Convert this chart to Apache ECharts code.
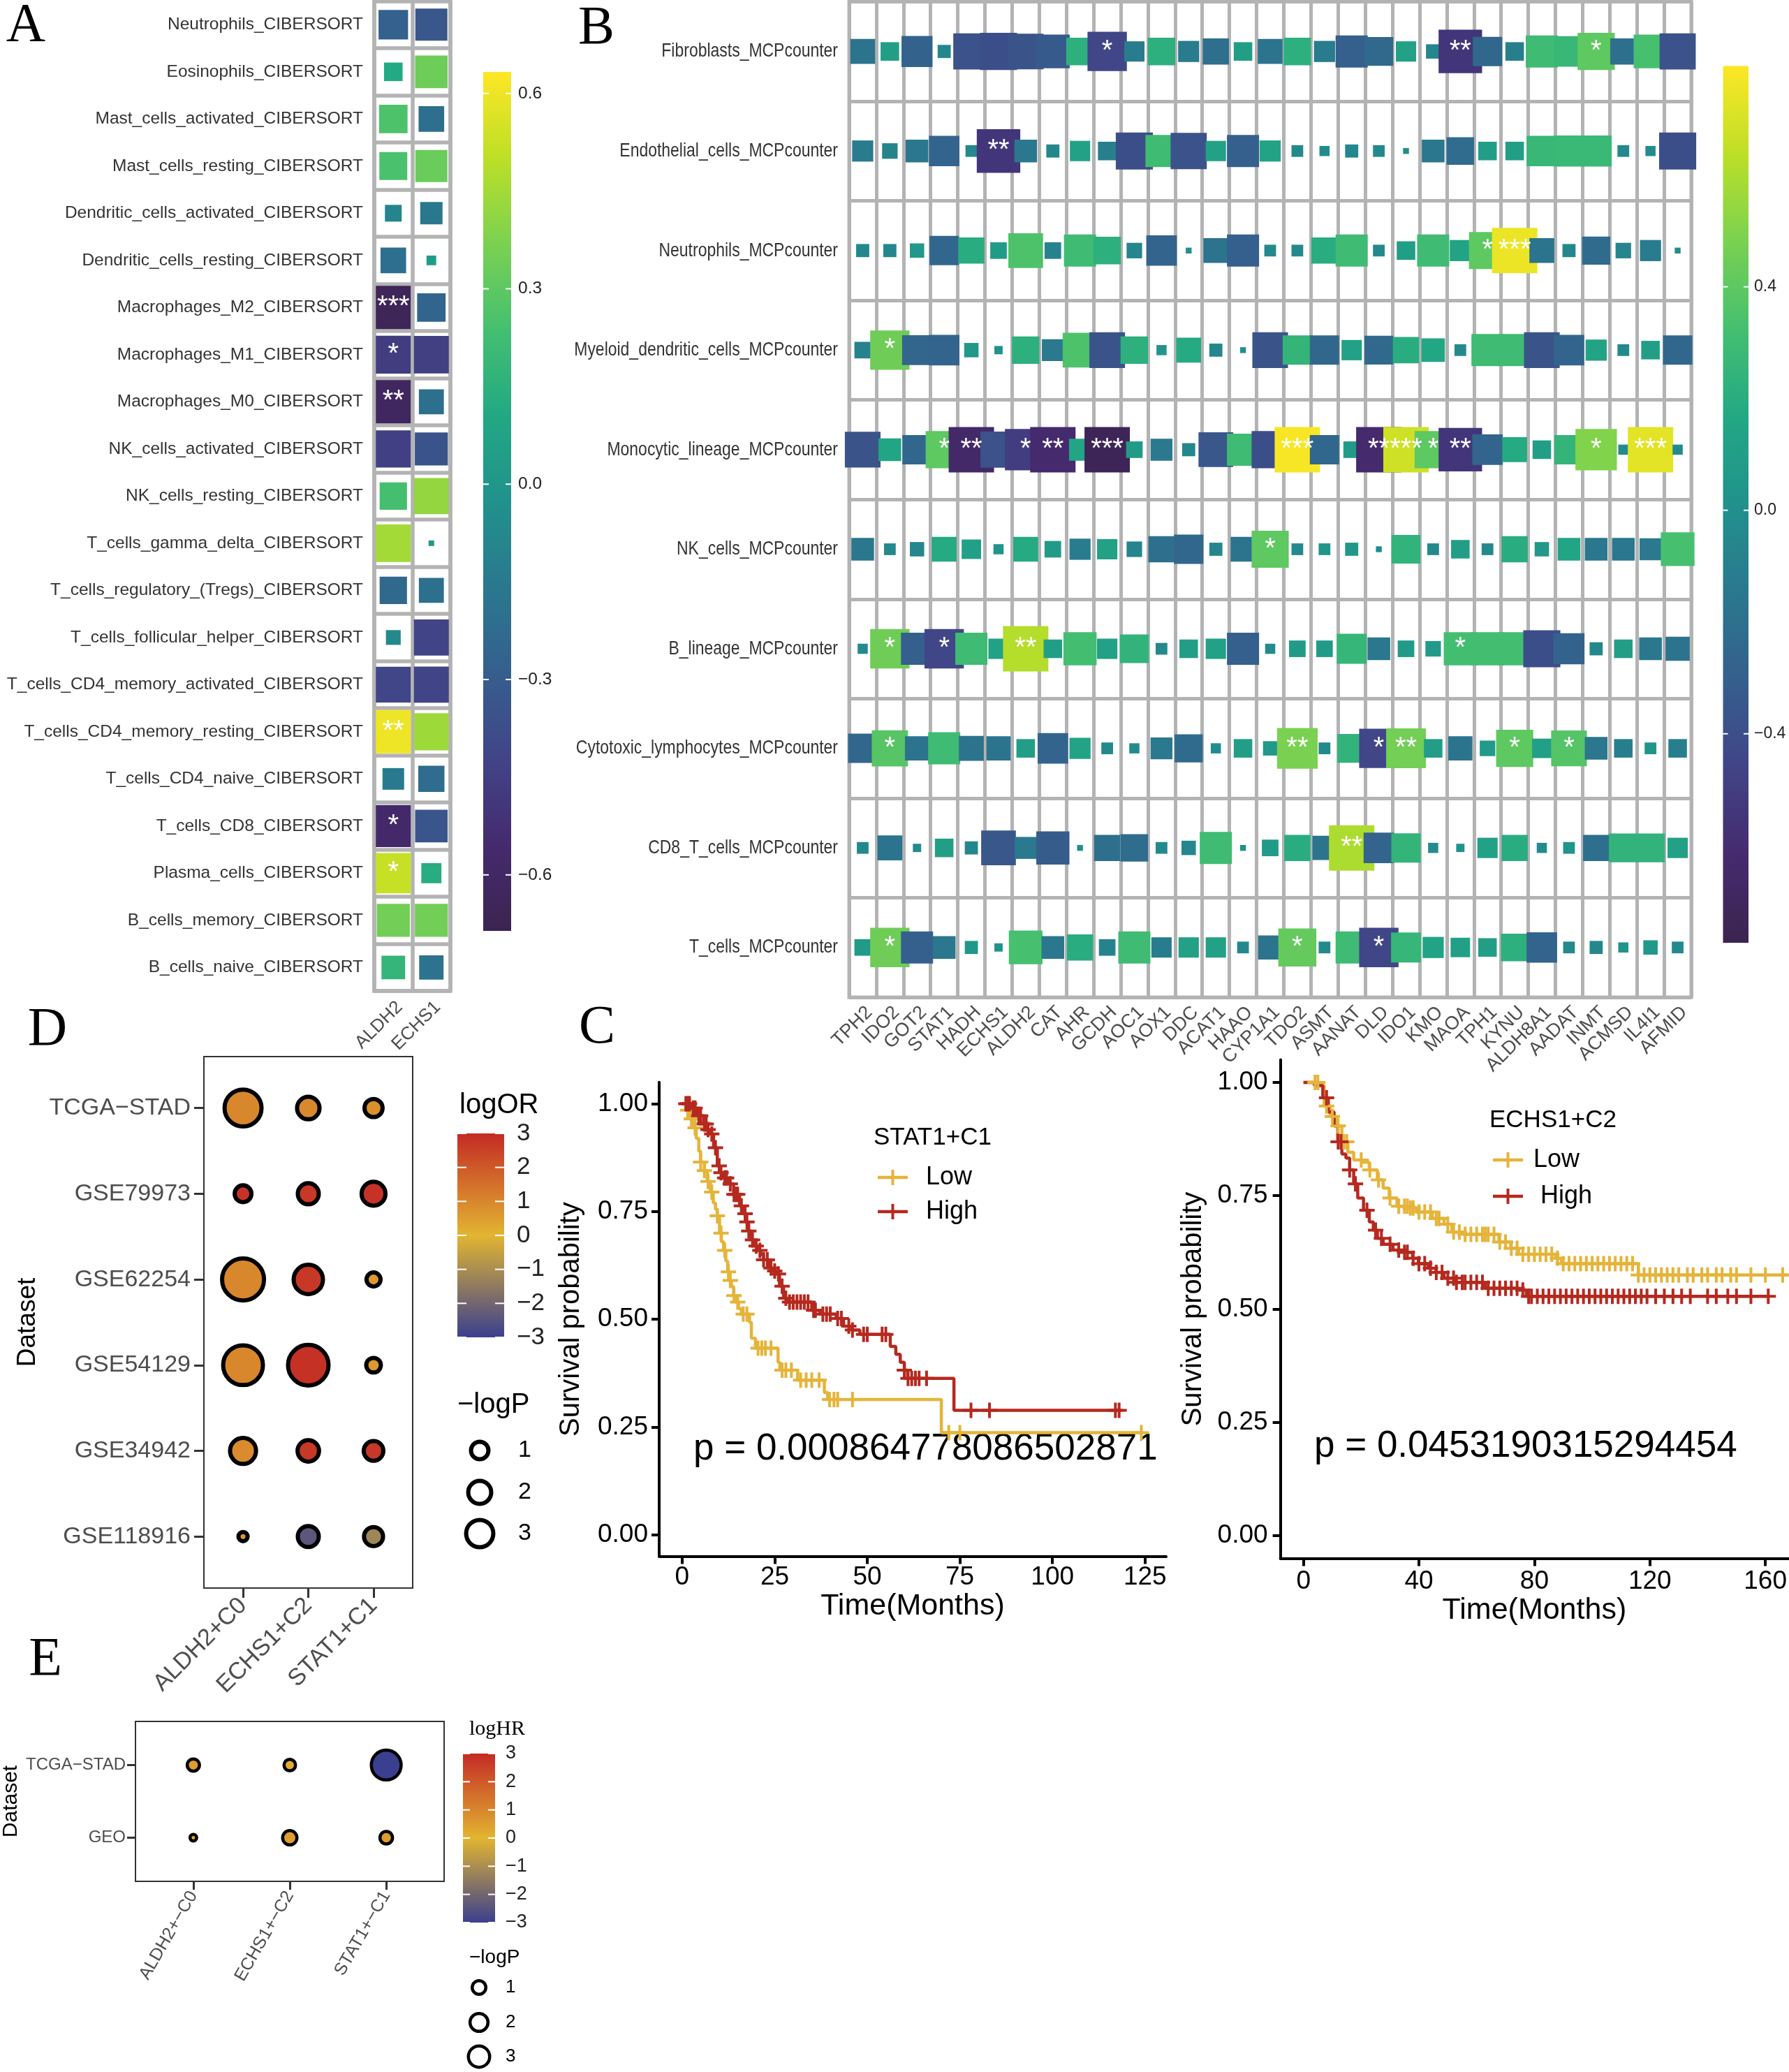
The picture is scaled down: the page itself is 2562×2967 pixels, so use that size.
<!DOCTYPE html>
<html>
<head>
<meta charset="utf-8">
<title>Figure</title>
<script src="https://cdn.jsdelivr.net/npm/echarts@6.0.0/dist/echarts.min.js"></script>
<style>
html,body{margin:0;padding:0;background:#ffffff;overflow:hidden;}
#chart{width:2562px;height:2967px;}
</style>
</head>
<body>
<div id="chart"></div>
<script>
// ================= DATA =================
// ---- Panel A : CIBERSORT correlation heatmap ----
const aCells = ['Neutrophils_CIBERSORT','Eosinophils_CIBERSORT','Mast_cells_activated_CIBERSORT','Mast_cells_resting_CIBERSORT','Dendritic_cells_activated_CIBERSORT','Dendritic_cells_resting_CIBERSORT','Macrophages_M2_CIBERSORT','Macrophages_M1_CIBERSORT','Macrophages_M0_CIBERSORT','NK_cells_activated_CIBERSORT','NK_cells_resting_CIBERSORT','T_cells_gamma_delta_CIBERSORT','T_cells_regulatory_(Tregs)_CIBERSORT','T_cells_follicular_helper_CIBERSORT','T_cells_CD4_memory_activated_CIBERSORT','T_cells_CD4_memory_resting_CIBERSORT','T_cells_CD4_naive_CIBERSORT','T_cells_CD8_CIBERSORT','Plasma_cells_CIBERSORT','B_cells_memory_CIBERSORT','B_cells_naive_CIBERSORT'];
const aGenes = ['ALDH2','ECHS1'];
const aCorrALDH2 = [-0.28,0.11,0.26,0.25,-0.09,-0.21,-0.65,-0.46,-0.62,-0.44,0.24,0.45,-0.24,-0.07,-0.41,0.60,-0.15,-0.57,0.52,0.35,0.18];
const aCorrECHS1 = [-0.33,0.34,-0.21,0.33,-0.16,0.03,-0.26,-0.45,-0.20,-0.35,0.42,0.01,-0.20,-0.42,-0.42,0.44,-0.22,-0.34,0.13,0.35,-0.19];
const aSigALDH2 = ['','','','','','','***','*','**','','','','','','','**','','*','*','',''];
const aSigECHS1 = ['','','','','','','','','','','','','','','','','','','','',''];
const aColorTicks = [-0.6,-0.3,0,0.3,0.6];
const aColorRange = [-0.686,0.633];

// ---- Panel B : MCPcounter correlation heatmap ----
const bCells = ['Fibroblasts_MCPcounter','Endothelial_cells_MCPcounter','Neutrophils_MCPcounter','Myeloid_dendritic_cells_MCPcounter','Monocytic_lineage_MCPcounter','NK_cells_MCPcounter','B_lineage_MCPcounter','Cytotoxic_lymphocytes_MCPcounter','CD8_T_cells_MCPcounter','T_cells_MCPcounter'];
const bGenes = ['TPH2','IDO2','GOT2','STAT1','HADH','ECHS1','ALDH2','CAT','AHR','GCDH','AOC1','AOX1','DDC','ACAT1','HAAO','CYP1A1','TDO2','ASMT','AANAT','DLD','IDO1','KMO','MAOA','TPH1','KYNU','ALDH8A1','AADAT','INMT','ACMSD','IL4I1','AFMID'];
const bCorr = [
 [-0.18,0.10,-0.28,-0.05,-0.38,-0.40,-0.37,-0.33,0.22,-0.45,-0.12,0.22,-0.13,-0.20,0.10,-0.18,0.22,-0.13,-0.30,-0.24,0.12,-0.06,-0.55,-0.25,-0.10,0.30,0.27,0.40,-0.20,0.33,-0.38],
 [-0.13,-0.07,-0.15,-0.27,-0.04,-0.55,-0.15,-0.05,0.12,-0.10,-0.40,0.30,-0.38,0.12,-0.30,0.13,-0.04,-0.03,-0.05,-0.04,-0.01,-0.15,-0.22,0.10,0.10,0.27,0.28,0.28,-0.04,-0.03,-0.40],
 [-0.05,-0.05,0.06,-0.25,0.20,0.08,0.35,-0.08,0.30,0.22,-0.07,-0.27,0.01,-0.18,-0.30,-0.04,-0.04,0.20,0.30,-0.04,0.10,0.30,0.13,0.40,0.75,-0.18,-0.05,-0.23,-0.07,-0.13,-0.01],
 [-0.08,0.45,-0.26,-0.27,0.06,0.02,0.22,-0.14,0.35,-0.37,0.22,0.03,0.18,-0.05,-0.01,-0.37,0.25,-0.25,0.12,-0.24,0.20,0.16,-0.04,0.30,0.30,-0.37,-0.27,0.13,-0.04,0.10,-0.25],
 [-0.37,0.15,-0.25,0.40,-0.65,-0.38,-0.50,-0.62,0.14,-0.74,0.08,-0.14,-0.05,-0.35,0.30,-0.40,0.78,-0.25,0.08,-0.62,0.68,0.40,-0.55,-0.27,0.18,0.10,0.25,0.50,-0.03,0.73,-0.03],
 [-0.15,-0.04,-0.06,0.18,0.11,0.03,0.18,0.08,-0.13,0.12,-0.07,-0.20,-0.25,-0.05,-0.18,0.40,-0.04,0.04,0.05,-0.01,0.24,-0.04,0.10,-0.04,0.20,0.06,0.15,-0.15,-0.15,-0.14,0.33],
 [-0.03,0.45,-0.30,-0.45,0.30,0.12,0.62,0.10,0.32,0.12,0.24,-0.04,0.10,0.12,-0.30,-0.03,0.08,0.08,0.26,-0.15,0.08,0.07,0.32,0.32,0.32,-0.40,-0.28,-0.05,0.10,-0.15,-0.17],
 [-0.25,0.38,-0.17,0.30,-0.18,-0.17,0.10,-0.27,0.13,-0.04,-0.03,-0.14,-0.23,-0.03,0.10,0.06,0.48,-0.04,0.24,-0.45,0.46,0.10,-0.17,0.07,0.40,0.11,0.37,-0.15,-0.10,0.04,-0.10],
 [-0.04,-0.18,-0.02,0.10,-0.05,-0.35,-0.14,-0.32,-0.01,-0.20,-0.22,-0.04,-0.06,0.30,-0.01,0.08,0.20,-0.17,0.60,-0.27,0.25,-0.03,0.02,0.12,0.20,-0.03,0.04,-0.20,0.24,0.24,0.12],
 [0.08,0.45,-0.30,-0.15,0.05,0.02,0.33,-0.15,0.20,-0.08,0.30,-0.12,0.12,0.12,-0.04,-0.17,0.42,-0.04,0.30,-0.45,0.26,0.13,0.11,0.10,0.22,-0.27,-0.04,-0.05,0.03,0.06,-0.04]
];
// [rowIndex, geneIndex, stars]
const bSig = [[0,9,'*'],[0,22,'**'],[0,27,'*'],[1,5,'**'],[2,23,'*'],[2,24,'***'],[3,1,'*'],
 [4,3,'*'],[4,4,'**'],[4,6,'*'],[4,7,'**'],[4,9,'***'],[4,16,'***'],[4,19,'**'],[4,20,'***'],[4,21,'*'],[4,22,'**'],[4,27,'*'],[4,29,'***'],
 [5,15,'*'],[6,1,'*'],[6,3,'*'],[6,6,'**'],[6,22,'*'],
 [7,1,'*'],[7,16,'**'],[7,19,'*'],[7,20,'**'],[7,24,'*'],[7,26,'*'],[8,18,'**'],[9,1,'*'],[9,16,'*'],[9,19,'*']];
const bColorTicks = [-0.4,0,0.4];
const bColorRange = [-0.774,0.795];

// ---- Panel C : Kaplan-Meier curves  [time, survival] ----
const c1Title = 'STAT1+C1';
const c1Low = [[0,1],[1,0.985],[2,0.965],[3,0.944],[3.8,0.92],[4.5,0.89],[5,0.865],[6,0.845],[6.8,0.82],[7.6,0.795],[8.4,0.77],[9,0.755],[9.5,0.74],[10.1,0.70],[10.6,0.68],[11.2,0.66],[11.8,0.635],[12.3,0.61],[12.8,0.59],[13.3,0.576],[13.9,0.555],[14.4,0.54],[15.2,0.525],[16,0.512],[18.2,0.493],[18.7,0.456],[19.8,0.433],[25.9,0.40],[26.4,0.382],[31.2,0.359],[38.4,0.33],[39.3,0.314],[70,0.237],[124.5,0.237]];
const c1High = [[0,1],[2.6,0.99],[4.2,0.972],[5.8,0.953],[6.6,0.94],[7.4,0.93],[8.5,0.898],[9.5,0.856],[10.3,0.84],[11.2,0.828],[12.3,0.814],[13.9,0.79],[15.5,0.763],[16.3,0.745],[17.1,0.726],[17.9,0.705],[18.7,0.684],[19.5,0.67],[20.4,0.66],[21.2,0.65],[22,0.638],[23.6,0.619],[24.5,0.612],[25.3,0.605],[26.3,0.577],[27.4,0.549],[28.4,0.54],[35,0.521],[37.2,0.512],[41.6,0.502],[43.6,0.484],[45.8,0.475],[48,0.465],[56.2,0.437],[57.7,0.419],[58.9,0.40],[60,0.382],[60.9,0.363],[73.4,0.289],[118.5,0.289]];
const c1LowCens = [1.5,2.5,3.5,5,6,7,8,9.5,10.5,11.5,12.5,13,14,15,16.5,17.5,20.5,21.5,22.5,24,27,28,29.5,32,33.5,35,37,39.8,41,42,46,72,75,124];
const c1HighCens = [1,1.5,2,3,3.5,4.5,5,6,6.5,7,8,9,10,10.5,11.5,12,13,14,14.5,15,16,17,17.5,18,19,20,21,22,23,24,25,26,27,28,29,30,31,32,33,34,35.5,36,38,39,40,42,43,45,46,49,50,54,55,60,61,62,63,64,66,78,83,117,118];
const c1P = 'p = 0.000864778086502871';
const c1XTicks = [0,25,50,75,100,125];

const c2Title = 'ECHS1+C2';
const c2Low = [[0,1],[5.2,0.993],[7.2,0.948],[9.3,0.925],[11.3,0.904],[13.3,0.869],[15.4,0.846],[17.4,0.829],[20.1,0.824],[22.8,0.807],[25.6,0.785],[27.6,0.767],[29.7,0.745],[32.4,0.727],[36.4,0.723],[39.1,0.714],[44.6,0.70],[48.7,0.687],[51.4,0.67],[55.5,0.665],[67.7,0.648],[71.8,0.634],[74.5,0.621],[87.4,0.612],[89.4,0.60],[116,0.575],[168,0.575]];
const c2High = [[0,1],[3.8,0.993],[6.7,0.966],[8.6,0.935],[10.6,0.904],[11.9,0.869],[13.3,0.842],[14.7,0.833],[16,0.807],[17.4,0.776],[18.8,0.745],[20.8,0.718],[22.8,0.692],[24.2,0.674],[25.6,0.656],[27.6,0.643],[31,0.63],[35,0.625],[37.8,0.612],[39.8,0.60],[43.2,0.59],[45.9,0.581],[48.7,0.568],[52.7,0.559],[63,0.546],[74.5,0.542],[77.2,0.528],[161.5,0.528]];
const c2LowCens = [4,5,8,10,12,14,15,20,23,26,30,33,35,36,37,38,40,42,44,46,47,50,52,54,56,58,60,62,63,64,66,68,70,72,74,76,78,80,82,84,86,88,90,92,94,96,98,100,102,104,106,108,110,112,114,116,118,120,122,124,126,128,130,133,135,138,140,143,145,148,150,155,160,166];
const c2HighCens = [8,12,13,16,18,22,25,27,30,33,35,36,38,40,42,44,46,48,50,52,53,55,56,58,60,62,64,66,68,70,72,74,76,78,79,81,83,85,87,89,91,93,95,97,99,101,103,105,107,109,111,113,115,117,119,122,125,128,131,134,140,143,147,150,155,161];
const c2P = 'p = 0.0453190315294454';
const c2XTicks = [0,40,80,120,160];
const survTicks = [0,0.25,0.5,0.75,1];

// ---- Panel D : logOR bubble plot ----
const dDatasets = ['TCGA\u2212STAD','GSE79973','GSE62254','GSE54129','GSE34942','GSE118916'];
const dGroups = ['ALDH2+C0','ECHS1+C2','STAT1+C1'];
const dLogOR = [[1.0,0.95,0.8],[2.8,2.7,2.8],[1.0,2.7,0.6],[1.0,2.85,0.6],[0.9,2.7,2.7],[0.6,-2.4,-1.2]];
const dLogP  = [[6.1,1.9,1.1],[0.9,1.6,2.2],[8.1,3.6,0.55],[7.2,7.5,0.62],[2.7,1.7,1.35],[0.14,1.6,1.25]];
const dColorTicks = [-3,-2,-1,0,1,2,3];
const dSizeLegend = [1,2,3];

// ---- Panel E : logHR bubble plot ----
const eDatasets = ['TCGA\u2212STAD','GEO'];
const eGroups = ['ALDH2+\u2212C0','ECHS1+\u2212C2','STAT1+\u2212C1'];
const eLogHR = [[0.5,0.2,-3.0],[0.1,0.5,0.5]];
const eLogP  = [[0.75,0.64,6.5],[0.11,1.14,0.81]];
const eColorTicks = [-3,-2,-1,0,1,2,3];
const eSizeLegend = [1,2,3];

// ================= STYLE HELPERS =================
const FONT = "'Liberation Sans', Arial, Helvetica, sans-serif";
const SERIF = "'Liberation Serif', 'Times New Roman', Times, serif";

const VIRIDIS = ['#3b2450','#452a6e','#414487','#355f8d','#2a788e','#21918c','#22a884','#44bf70','#7ad151','#bddf26','#fde725'];
const OR_PAL = ['#3b3f8f','#e2b531','#c42a25'];
function rgb(h){return [parseInt(h.slice(1,3),16),parseInt(h.slice(3,5),16),parseInt(h.slice(5,7),16)];}
function ramp(stops, t){
  t = Math.max(0, Math.min(1, t));
  const n = stops.length - 1; const i = Math.min(n - 1, Math.floor(t * n)); const f = t * n - i;
  const a = rgb(stops[i]), b = rgb(stops[i + 1]);
  return 'rgb(' + a.map((x, k) => Math.round(x + (b[k] - x) * f)).join(',') + ')';
}
const virA = v => ramp(VIRIDIS, (v - aColorRange[0]) / (aColorRange[1] - aColorRange[0]));
const virB = v => ramp(VIRIDIS, (v - bColorRange[0]) / (bColorRange[1] - bColorRange[0]));
const orCol = v => ramp(OR_PAL, (v + 3) / 6);
const minusFmt = d => (v => (v < -1e-9 ? '\u2212' : '') + Math.abs(v).toFixed(d));

const grids = [], xAxes = [], yAxes = [], series = [], graphics = [];
const GRAY = '#b3b3b3';

// ---------- heatmap builder ----------
function heatmap(cfg){
  const gi = grids.length;
  grids.push({left:cfg.left, top:cfg.top, width:cfg.width, height:cfg.height, show:true, borderColor:GRAY, borderWidth:cfg.lw, containLabel:false});
  const xi = xAxes.length;
  xAxes.push({gridIndex:gi, type:'category', data:cfg.cols, boundaryGap:true, position:'bottom',
    axisLine:{show:false}, axisTick:{show:false},
    splitLine:{show:true, interval:0, lineStyle:{color:GRAY, width:cfg.lw}},
    axisLabel:{show:cfg.showLabels, interval:0, rotate:45, margin:cfg.xMargin, fontSize:cfg.xFs, fontFamily:FONT, color:'#4d4d4d', verticalAlign:'top', hideOverlap:false}});
  const yi = yAxes.length;
  yAxes.push({gridIndex:gi, type:'category', data:cfg.rows, inverse:true, boundaryGap:true,
    axisLine:{show:false}, axisTick:{show:false},
    splitLine:{show:true, interval:0, lineStyle:{color:GRAY, width:cfg.lw}},
    axisLabel:{show:cfg.showLabels, interval:0, margin:cfg.yMargin, fontSize:cfg.yFs, fontFamily:FONT, color:'#333333', hideOverlap:false}});
  series.push({type:'scatter', xAxisIndex:xi, yAxisIndex:yi, symbol:'rect', clip:true, silent:true, animation:false, z:3,
    data:cfg.data,
    symbolSize: v => { const s = cfg.S * Math.sqrt(Math.abs(v[2])); return [Math.min(s, cfg.capW), Math.min(s, cfg.capH)]; },
    itemStyle:{color: p => cfg.colorFn(p.value[2]), opacity:1},
    label:{show:true, position:'inside', formatter: p => p.data.sig || '', color:'#ffffff', fontSize:cfg.starFs, fontFamily:FONT, offset:[0, cfg.starOff]},
    labelLayout:{hideOverlap:false}});
  return {gi, xi, yi};
}

// ---------- colorbar builder ----------
function colorbar(cfg){
  const gi = grids.length;
  grids.push({left:cfg.left, top:cfg.top, width:cfg.width, height:cfg.height, containLabel:false});
  const xi = xAxes.length;
  xAxes.push({gridIndex:gi, type:'value', min:0, max:1, show:false});
  const yi = yAxes.length;
  yAxes.push({gridIndex:gi, type:'value', min:cfg.min, max:cfg.max, position:'right',
    axisLine:{show:false, onZero:false}, axisTick:{show:false}, splitLine:{show:false},
    axisLabel:{show:true, customValues:cfg.ticks, formatter:cfg.fmt, margin:cfg.margin, fontSize:cfg.fs, fontFamily:FONT, color:'#222222'}});
  const stops = [];
  for (let i = 0; i <= 40; i++){ const v = cfg.min + (cfg.max - cfg.min) * i / 40; stops.push({offset:i / 40, color:cfg.colorFn(v)}); }
  series.push({type:'custom', xAxisIndex:xi, yAxisIndex:yi, data:[[0.5, cfg.min]], silent:true, animation:false, z:2,
    renderItem(params, api){
      const cs = params.coordSys;
      const ch = [{type:'rect', shape:{x:cs.x, y:cs.y, width:cs.width, height:cs.height}, style:{fill:new echarts.graphic.LinearGradient(0, 1, 0, 0, stops)}}];
      cfg.ticks.forEach(v => {
        const y = api.coord([0, v])[1];
        ch.push({type:'line', shape:{x1:cs.x, y1:y, x2:cs.x + cfg.tickLen, y2:y}, style:{stroke:'#ffffff', lineWidth:2}});
        ch.push({type:'line', shape:{x1:cs.x + cs.width - cfg.tickLen, y1:y, x2:cs.x + cs.width, y2:y}, style:{stroke:'#ffffff', lineWidth:2}});
      });
      return {type:'group', children:ch};
    }});
}

// ---------- bubble builder ----------
function bubble(cfg){
  const gi = grids.length;
  grids.push({left:cfg.left, top:cfg.top, width:cfg.width, height:cfg.height, show:true, borderColor:'#333333', borderWidth:2, backgroundColor:'#ffffff', containLabel:false});
  const xv = cfg.cols.map((_, i) => i), yv = cfg.rows.map((_, i) => i);
  const xi = xAxes.length;
  xAxes.push({gridIndex:gi, type:'value', min:-0.6, max:cfg.cols.length - 0.4, position:'bottom',
    axisLine:{show:false, onZero:false}, splitLine:{show:false},
    axisTick:{show:true, customValues:xv, length:cfg.tickLen, lineStyle:{color:'#333333', width:cfg.tickW}},
    axisLabel:{customValues:xv, formatter: v => cfg.cols[Math.round(v)], rotate:cfg.xRotate, margin:cfg.xMargin, fontSize:cfg.xFs, fontFamily:FONT, color:'#4d4d4d', hideOverlap:false}});
  const yi = yAxes.length;
  yAxes.push({gridIndex:gi, type:'value', min:-0.6, max:cfg.rows.length - 0.4, inverse:true, position:'left',
    name:'Dataset', nameLocation:'middle', nameGap:cfg.nameGap, nameTextStyle:{fontSize:cfg.nameFs, fontFamily:FONT, color:'#000000'},
    axisLine:{show:false, onZero:false}, splitLine:{show:false},
    axisTick:{show:true, customValues:yv, length:cfg.tickLen, lineStyle:{color:'#333333', width:cfg.tickW}},
    axisLabel:{customValues:yv, formatter: v => cfg.rows[Math.round(v)], margin:cfg.yMargin, fontSize:cfg.yFs, fontFamily:FONT, color:'#4d4d4d', hideOverlap:false}});
  const data = [];
  cfg.rows.forEach((r, ri) => cfg.cols.forEach((c, ci) => data.push([ci, ri, cfg.colorVals[ri][ci], cfg.pVals[ri][ci]])));
  series.push({type:'scatter', xAxisIndex:xi, yAxisIndex:yi, data, symbol:'circle', silent:true, animation:false, z:3,
    symbolSize: v => cfg.k * Math.sqrt(v[3]) + cfg.b,
    itemStyle:{color: p => orCol(p.value[2]), borderColor:'#000000', borderWidth:cfg.bw, opacity:1}});
  // size legend
  graphics.push({type:'text', x:cfg.lgX, y:cfg.lgTitleY, silent:true, style:{text:'\u2212logP', font:cfg.lgTitleFs + 'px ' + FONT, fill:'#000', align:'left', verticalAlign:'middle'}});
  cfg.sizeLegend.forEach((v, i) => {
    const s = cfg.k * Math.sqrt(v) + cfg.b;
    graphics.push({type:'circle', silent:true, shape:{cx:cfg.lgCx, cy:cfg.lgYs[i], r:s / 2}, style:{fill:'#ffffff', stroke:'#000000', lineWidth:cfg.bw}});
    graphics.push({type:'text', x:cfg.lgLabelX, y:cfg.lgYs[i], silent:true, style:{text:String(v), font:cfg.lgFs + 'px ' + FONT, fill:'#000', align:'left', verticalAlign:'middle'}});
  });
}

// ---------- Kaplan-Meier builder ----------
const PLUS = 'path://M-2,-11L2,-11L2,-2L11,-2L11,2L2,2L2,11L-2,11L-2,2L-11,2L-11,-2L-2,-2Z';
const LOWC = '#E5B43A', HIGHC = '#B5291F';
function survAt(curve, t){ let s = curve[0][1]; for (const p of curve){ if (p[0] <= t) s = p[1]; else break; } return s; }
function km(cfg){
  const gi = grids.length;
  grids.push({left:cfg.left, top:cfg.top, width:cfg.width, height:cfg.height, containLabel:false});
  const xi = xAxes.length;
  xAxes.push({gridIndex:gi, type:'value', min:cfg.xMin, max:cfg.xMax, position:'bottom',
    name:'Time(Months)', nameLocation:'middle', nameGap:cfg.xNameGap, nameTextStyle:{fontSize:43, fontFamily:FONT, color:'#000'},
    axisLine:{show:true, onZero:false, lineStyle:{color:'#000', width:4}}, splitLine:{show:false},
    axisTick:{show:true, customValues:cfg.xTicks, length:11, lineStyle:{color:'#000', width:4}},
    axisLabel:{customValues:cfg.xTicks, margin:cfg.xMargin, fontSize:37, fontFamily:FONT, color:'#000'}});
  const yi = yAxes.length;
  yAxes.push({gridIndex:gi, type:'value', min:-0.05, max:1.05, position:'left',
    name:'Survival probability', nameLocation:'middle', nameGap:cfg.yNameGap, nameTextStyle:{fontSize:40, fontFamily:FONT, color:'#000'},
    axisLine:{show:true, onZero:false, lineStyle:{color:'#000', width:4}}, splitLine:{show:false},
    axisTick:{show:true, customValues:survTicks, length:11, lineStyle:{color:'#000', width:4}},
    axisLabel:{customValues:survTicks, formatter: v => v.toFixed(2), margin:cfg.yMargin, fontSize:37, fontFamily:FONT, color:'#000'}});
  [[cfg.low, cfg.lowCens, LOWC], [cfg.high, cfg.highCens, HIGHC]].forEach(([curve, cens, col]) => {
    series.push({type:'line', xAxisIndex:xi, yAxisIndex:yi, data:curve, step:'end', showSymbol:false, symbol:'none', silent:true, animation:false, z:3,
      lineStyle:{color:col, width:4.5}});
    series.push({type:'scatter', xAxisIndex:xi, yAxisIndex:yi, data:cens.map(t => [t, survAt(curve, t)]), symbol:PLUS, symbolSize:22, silent:true, animation:false, z:4,
      itemStyle:{color:col, opacity:1}});
  });
  graphics.push({type:'text', x:cfg.lgX, y:cfg.lgTitleY, silent:true, style:{text:cfg.title, font:'35px ' + FONT, fill:'#000', align:'left', verticalAlign:'middle'}});
  [['Low', LOWC, cfg.lgY1, cfg.lgTx1], ['High', HIGHC, cfg.lgY2, cfg.lgTx2]].forEach(([name, col, y, tx]) => {
    graphics.push({type:'line', silent:true, shape:{x1:cfg.lgLx1, y1:y, x2:cfg.lgLx2, y2:y}, style:{stroke:col, lineWidth:4.5}});
    const mx = (cfg.lgLx1 + cfg.lgLx2) / 2;
    graphics.push({type:'line', silent:true, shape:{x1:mx, y1:y - 11, x2:mx, y2:y + 11}, style:{stroke:col, lineWidth:4}});
    graphics.push({type:'text', x:tx, y:y, silent:true, style:{text:name, font:'36px ' + FONT, fill:'#000', align:'left', verticalAlign:'middle'}});
  });
  graphics.push({type:'text', x:cfg.pX, y:cfg.pY, silent:true, style:{text:cfg.p, font:'53px ' + FONT, fill:'#000', align:'left', verticalAlign:'middle'}});
}

// ================= BUILD PANELS =================
// Panel A
const aData = [];
aCells.forEach((c, r) => {
  aData.push({value:[0, r, aCorrALDH2[r]], sig:aSigALDH2[r]});
  aData.push({value:[1, r, aCorrECHS1[r]], sig:aSigECHS1[r]});
});
heatmap({left:536, top:1.6, width:109, height:1417.5, lw:5.5, cols:aGenes, rows:aCells, data:aData, showLabels:true,
  S:80, capW:50, capH:62, colorFn:virA, starFs:40, starOff:16,
  xMargin:10, xFs:26, yMargin:16, yFs:24.5});
colorbar({left:692, top:103, width:40, height:1230, min:aColorRange[0], max:aColorRange[1], ticks:aColorTicks, fmt:minusFmt(1),
  colorFn:virA, margin:10, fs:24.5, tickLen:8});

// Panel B
const bData = [];
const bSigMap = {};
bSig.forEach(([r, c, s]) => { bSigMap[r + '_' + c] = s; });
bCells.forEach((cell, r) => bGenes.forEach((g, c) => bData.push({value:[c, r, bCorr[r][c]], sig:bSigMap[r + '_' + c] || ''})));
const B_BOX = {left:1216, top:2.4, width:1206, height:1425.6};
const bAx = heatmap({left:B_BOX.left, top:B_BOX.top, width:B_BOX.width, height:B_BOX.height, lw:5, cols:bGenes, rows:bCells, data:bData, showLabels:false,
  S:84, capW:65, capH:65, colorFn:virB, starFs:40, starOff:16,
  xMargin:6, xFs:27, yMargin:16, yFs:28});
colorbar({left:2467.5, top:94.6, width:36.5, height:1255.4, min:bColorRange[0], max:bColorRange[1], ticks:bColorTicks, fmt:minusFmt(1),
  colorFn:virB, margin:8, fs:23, tickLen:7});

// Panel C
km({left:944, top:1549.7, width:726, height:678.9, xMin:-6.2, xMax:130.7, xTicks:c1XTicks, xMargin:12, yMargin:16,
  xNameGap:49, yNameGap:106, low:c1Low, high:c1High, lowCens:c1LowCens, highCens:c1HighCens,
  title:c1Title, lgX:1251, lgTitleY:1629, lgLx1:1257, lgLx2:1300, lgY1:1686, lgY2:1735, lgTx1:1326, lgTx2:1326,
  p:c1P, pX:993, pY:2075});
km({left:1833.6, top:1517.5, width:728.4, height:714, xMin:-8, xMax:168, xTicks:c2XTicks, xMargin:15, yMargin:18,
  xNameGap:48, yNameGap:105, low:c2Low, high:c2High, lowCens:c2LowCens, highCens:c2HighCens,
  title:c2Title, lgX:2133, lgTitleY:1604, lgLx1:2138, lgLx2:2181, lgY1:1661, lgY2:1713, lgTx1:2196, lgTx2:2206,
  p:c2P, pX:1882, pY:2071});

// Panel D
bubble({left:292, top:1513, width:299, height:761, cols:dGroups, rows:dDatasets, colorVals:dLogOR, pVals:dLogP,
  k:19, b:6, bw:6, tickLen:14, tickW:3, xRotate:45, xMargin:20, xFs:34, yMargin:19, yFs:34, nameGap:234, nameFs:37,
  sizeLegend:dSizeLegend, lgX:655, lgTitleY:2012, lgTitleFs:40, lgCx:687, lgYs:[2077,2137,2196], lgLabelX:742, lgFs:34});
graphics.push({type:'text', x:658, y:1583, silent:true, style:{text:'logOR', font:'40px ' + FONT, fill:'#000', align:'left', verticalAlign:'middle'}});
colorbar({left:655, top:1623, width:67, height:292, min:-3, max:3, ticks:dColorTicks, fmt:minusFmt(0),
  colorFn:orCol, margin:18, fs:35, tickLen:13});

// Panel E
bubble({left:192, top:2465, width:444, height:229, cols:eGroups, rows:eDatasets, colorVals:eLogHR, pVals:eLogP,
  k:15, b:4.5, bw:4.5, tickLen:12, tickW:3, xRotate:60, xMargin:16, xFs:25, yMargin:14, yFs:24, nameGap:163, nameFs:30,
  sizeLegend:eSizeLegend, lgX:672, lgTitleY:2803, lgTitleFs:28, lgCx:686, lgYs:[2846,2896,2945], lgLabelX:724, lgFs:26});
graphics.push({type:'text', x:672, y:2476, silent:true, style:{text:'logHR', font:'30px ' + SERIF, fill:'#000', align:'left', verticalAlign:'middle'}});
colorbar({left:663, top:2511, width:46, height:242, min:-3, max:3, ticks:eColorTicks, fmt:minusFmt(0),
  colorFn:orCol, margin:15, fs:27, tickLen:10});

// Panel letters
[['A',37,38],['B',854,42],['C',855,1473],['D',68,1476],['E',65,2378]].forEach(([t, x, y]) => {
  graphics.push({type:'text', x, y, silent:true, style:{text:t, font:'78px ' + SERIF, fill:'#000', align:'center', verticalAlign:'middle'}});
});

const chart = echarts.init(document.getElementById('chart'), null, {renderer:'canvas', width:2562, height:2967});
chart.setOption({
  backgroundColor:'#ffffff',
  animation:false,
  textStyle:{fontFamily:FONT},
  grid:grids, xAxis:xAxes, yAxis:yAxes, series:series,
  graphic:{elements:graphics}
});

// Panel B axis labels: condensed text placed through the heatmap's own category axes
const bLabels = [];
bCells.forEach((name, r) => {
  const y = chart.convertToPixel({yAxisIndex:bAx.yi}, r);
  bLabels.push({type:'text', x:B_BOX.left - 16, y:y, scaleX:0.82, silent:true,
    style:{text:name, font:'28px ' + FONT, fill:'#333333', align:'right', verticalAlign:'middle'}});
});
bGenes.forEach((g, c) => {
  const x = chart.convertToPixel({xAxisIndex:bAx.xi}, c);
  bLabels.push({type:'text', x:x, y:B_BOX.top + B_BOX.height + 8, rotation:Math.PI / 4, silent:true,
    style:{text:g, font:'27px ' + FONT, fill:'#4d4d4d', align:'right', verticalAlign:'top'}});
});
chart.setOption({graphic:{elements:graphics.concat(bLabels)}});
</script>
</body>
</html>
